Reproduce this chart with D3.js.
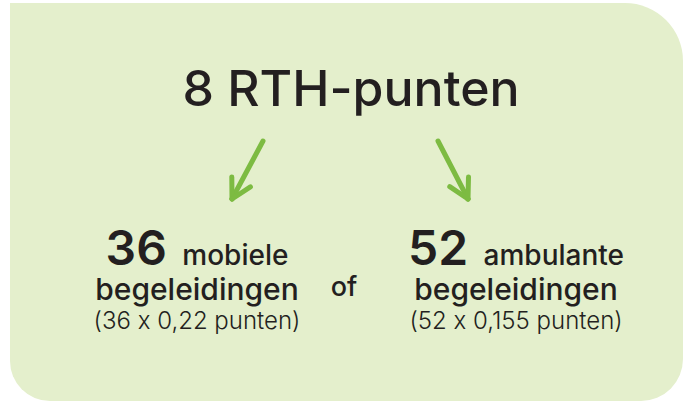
<!DOCTYPE html>
<html>
<head>
<meta charset="utf-8">
<script src="https://cdn.jsdelivr.net/npm/d3@7"></script>
<style>
  body { margin: 0; background: #fff; }
  text { font-family: Inter, "Noto Sans", sans-serif; fill: #231f20; font-feature-settings: "calt" 0; }
</style>
</head>
<body>
<div class="chart"></div>
<script>
// data
let totalPoints = 8;
let totalLabel = "RTH-punten";
let kinds = ["mobiele", "ambulante"];
let counts = [36, 52];
let factors = ["0,22", "0,155"];
let joinWord = "of";

let width = 686, height = 403;

let svg = d3.select('.chart')
    .append('svg')
    .attr('width', width)
    .attr('height', height);

// background card: square top-left, rounded others
let x0 = 10, y0 = 3, x1 = 683, y1 = 401;
let rTR = 58, rBR = 42, rBL = 40;
svg.append('path')
    .attr('d', `M${x0},${y0} H${x1 - rTR} A${rTR},${rTR} 0 0 1 ${x1},${y0 + rTR}
        V${y1 - rBR} A${rBR},${rBR} 0 0 1 ${x1 - rBR},${y1}
        H${x0 + rBL} A${rBL},${rBL} 0 0 1 ${x0},${y1 - rBL} Z`)
    .style('fill', '#e4efcc');

// column positions
let x = d3.scalePoint().domain(kinds).range([197, 516]);

// title
svg.append('text')
    .attr('x', 351)
    .attr('y', 106)
    .attr('text-anchor', 'middle')
    .attr('font-size', 50)
    .attr('font-weight', 500)
    .text(totalPoints + ' ' + totalLabel);

// arrows
let arrows = [
    { kind: "mobiele", dx0: 66, dx1: 35 },
    { kind: "ambulante", dx0: -78, dx1: -48 }
];
let arrowG = svg.append('g')
    .style('stroke', '#7dbb42')
    .style('stroke-width', 5)
    .style('stroke-linecap', 'round')
    .style('fill', 'none');
arrows.forEach(a => {
    let tx = x(a.kind) + a.dx0, ty = 141;
    let hx = x(a.kind) + a.dx1, hy = 199;
    let ang = Math.atan2(hy - ty, hx - tx);
    let len = 22, spread = 0.5;
    arrowG.append('line')
        .attr('x1', tx).attr('y1', ty).attr('x2', hx).attr('y2', hy);
    [-spread, spread].forEach(s => {
        arrowG.append('line')
            .attr('x1', hx).attr('y1', hy)
            .attr('x2', hx - len * Math.cos(ang + s))
            .attr('y2', hy - len * Math.sin(ang + s));
    });
});

// columns
kinds.forEach((k, i) => {
    let g = svg.append('g').attr('transform', 'translate(' + x(k) + ',0)');
    let line1 = g.append('text')
        .attr('y', 265)
        .attr('text-anchor', 'middle');
    line1.append('tspan')
        .attr('font-size', 48)
        .attr('font-weight', 600)
        .text(counts[i]);
    line1.append('tspan')
        .attr('dx', 8)
        .attr('font-size', 28)
        .attr('font-weight', 500)
        .text(' ' + k);
    g.append('text')
        .attr('y', 300)
        .attr('text-anchor', 'middle')
        .attr('font-size', 30)
        .attr('font-weight', 500)
        .text('begeleidingen');
    g.append('text')
        .attr('y', 329)
        .attr('text-anchor', 'middle')
        .attr('font-size', 24)
        .attr('font-weight', 300)
        .text('(' + counts[i] + ' x ' + factors[i] + ' punten)');
});

svg.append('text')
    .attr('x', 344)
    .attr('y', 296)
    .attr('text-anchor', 'middle')
    .attr('font-size', 27)
    .attr('font-weight', 500)
    .text(joinWord);
</script>
</body>
</html>
